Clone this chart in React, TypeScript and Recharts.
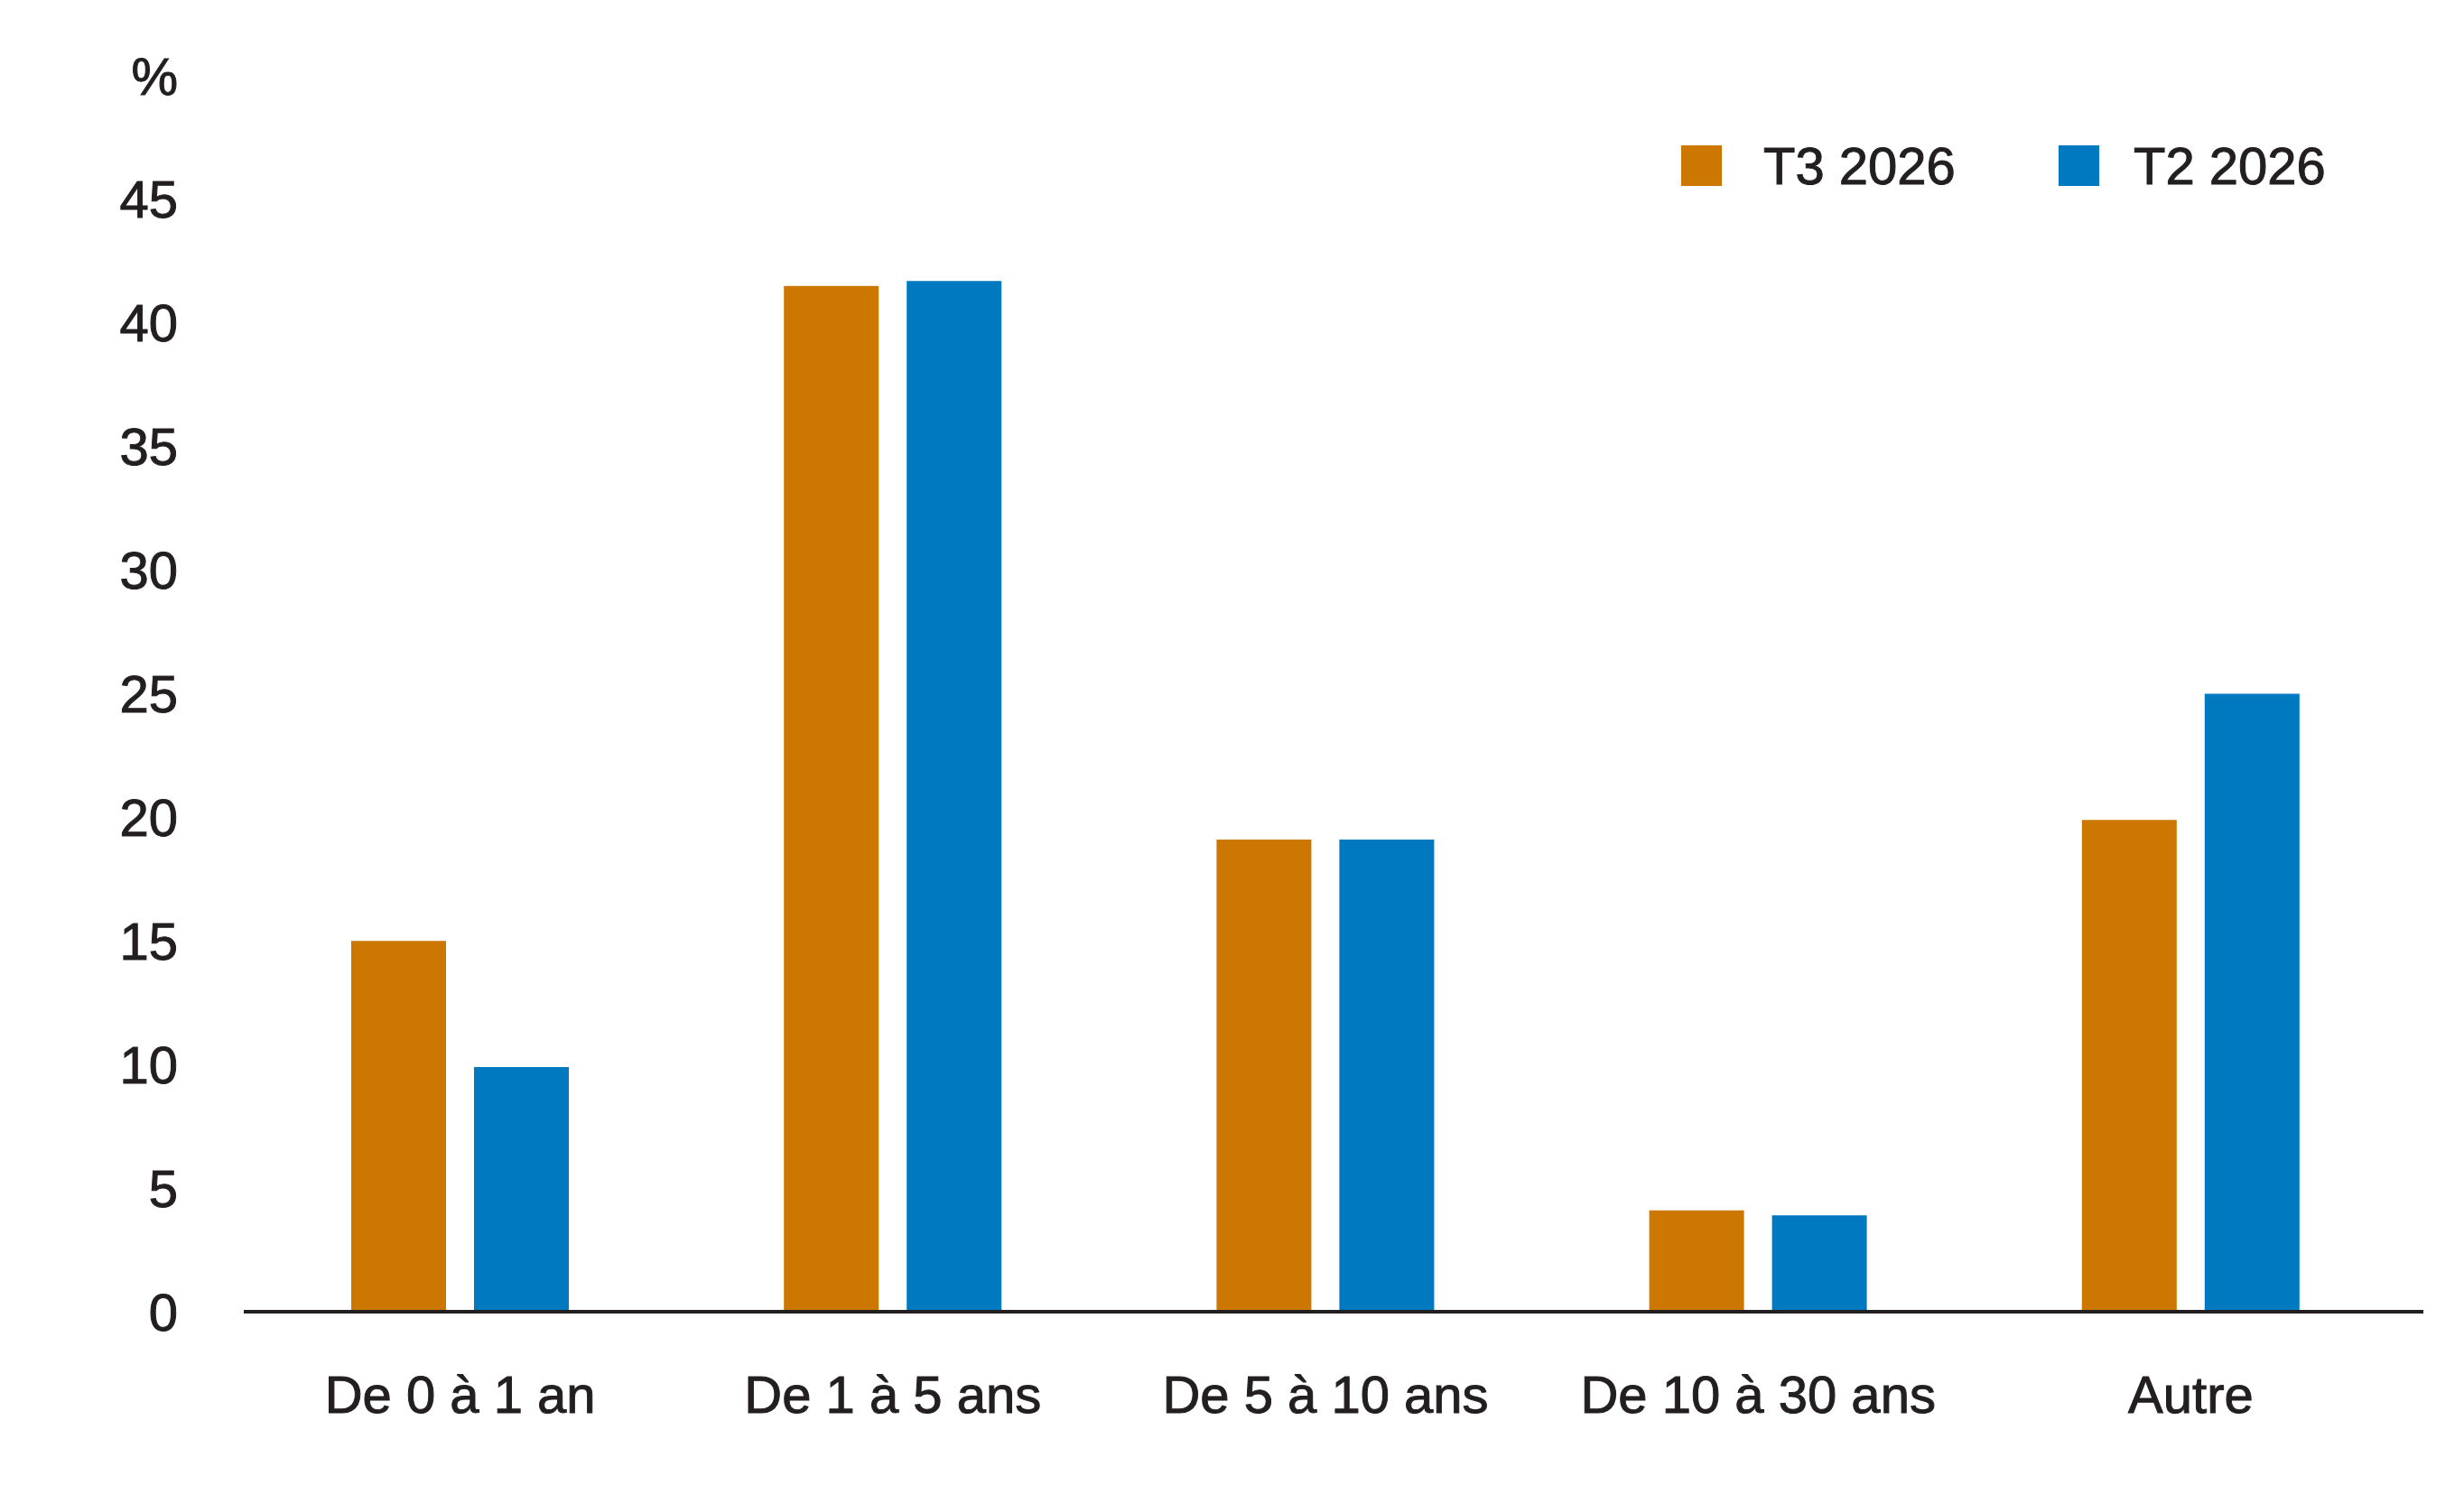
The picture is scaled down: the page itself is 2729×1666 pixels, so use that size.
import { Bar, BarChart, XAxis, YAxis, Legend } from "recharts";

const categories = ["De 0 à 1 an", "De 1 à 5 ans", "De 5 à 10 ans", "De 10 à 30 ans", "Autre"];
const t3_2026 = [15.0, 41.5, 19.1, 4.1, 19.9];
const t2_2026 = [9.9, 41.7, 19.1, 3.9, 25.0];
const yTicks = [0, 5, 10, 15, 20, 25, 30, 35, 40, 45, 50];

const ORANGE = "#cd7703";
const BLUE = "#0079c1";
const INK = "#231f20";
const FONT = "'Liberation Sans', Arial, sans-serif";

const data = categories.map((c, i) => ({ cat: c, t3: t3_2026[i], t2: t2_2026[i] }));

const tickStyle = { fontSize: 58, fill: INK, fontFamily: FONT, stroke: INK, strokeWidth: 1 };

const LegendBox = () => (
  <div style={{ position: "relative", width: 720, height: 60, fontFamily: FONT, fontSize: 58, color: INK, WebkitTextStroke: `1px ${INK}` }}>
    <div style={{ position: "absolute", left: 0, top: 0, width: 45, height: 45, background: ORANGE }} />
    <span style={{ position: "absolute", left: 91, top: -11, whiteSpace: "nowrap" }}>T3 2026</span>
    <div style={{ position: "absolute", left: 418, top: 0, width: 45, height: 45, background: BLUE }} />
    <span style={{ position: "absolute", left: 501, top: -11, whiteSpace: "nowrap" }}>T2 2026</span>
  </div>
);

export default function App() {
  return (
    <div style={{ position: "absolute", left: 0, top: 0, background: "#fff" }}>
      <BarChart
        width={2729}
        height={1666}
        data={data}
        margin={{ top: 84, right: 45, left: 0, bottom: 0 }}
        barSize={105}
        barGap={31}
      >
        <XAxis
          dataKey="cat"
          height={213}
          padding={{ left: 0, right: 18 }}
          axisLine={{ stroke: INK, strokeWidth: 4 }}
          tickLine={false}
          tickSize={0}
          tickMargin={71}
          tick={tickStyle}
          interval={0}
        />
        <YAxis
          width={270}
          domain={[0, 50]}
          ticks={yTicks}
          axisLine={false}
          tickLine={false}
          tickSize={0}
          tickMargin={73}
          tick={tickStyle}
          tickFormatter={(v: number) => (v === 50 ? "%" : String(v))}
        />
        <Legend
          layout="vertical"
          align="center"
          verticalAlign="middle"
          content={() => <LegendBox />}
          wrapperStyle={{ position: "absolute", top: 161, left: 1862, width: 720, height: 60 }}
        />
        <Bar dataKey="t3" name="T3 2026" fill={ORANGE} isAnimationActive={false} />
        <Bar dataKey="t2" name="T2 2026" fill={BLUE} isAnimationActive={false} />
      </BarChart>
    </div>
  );
}
